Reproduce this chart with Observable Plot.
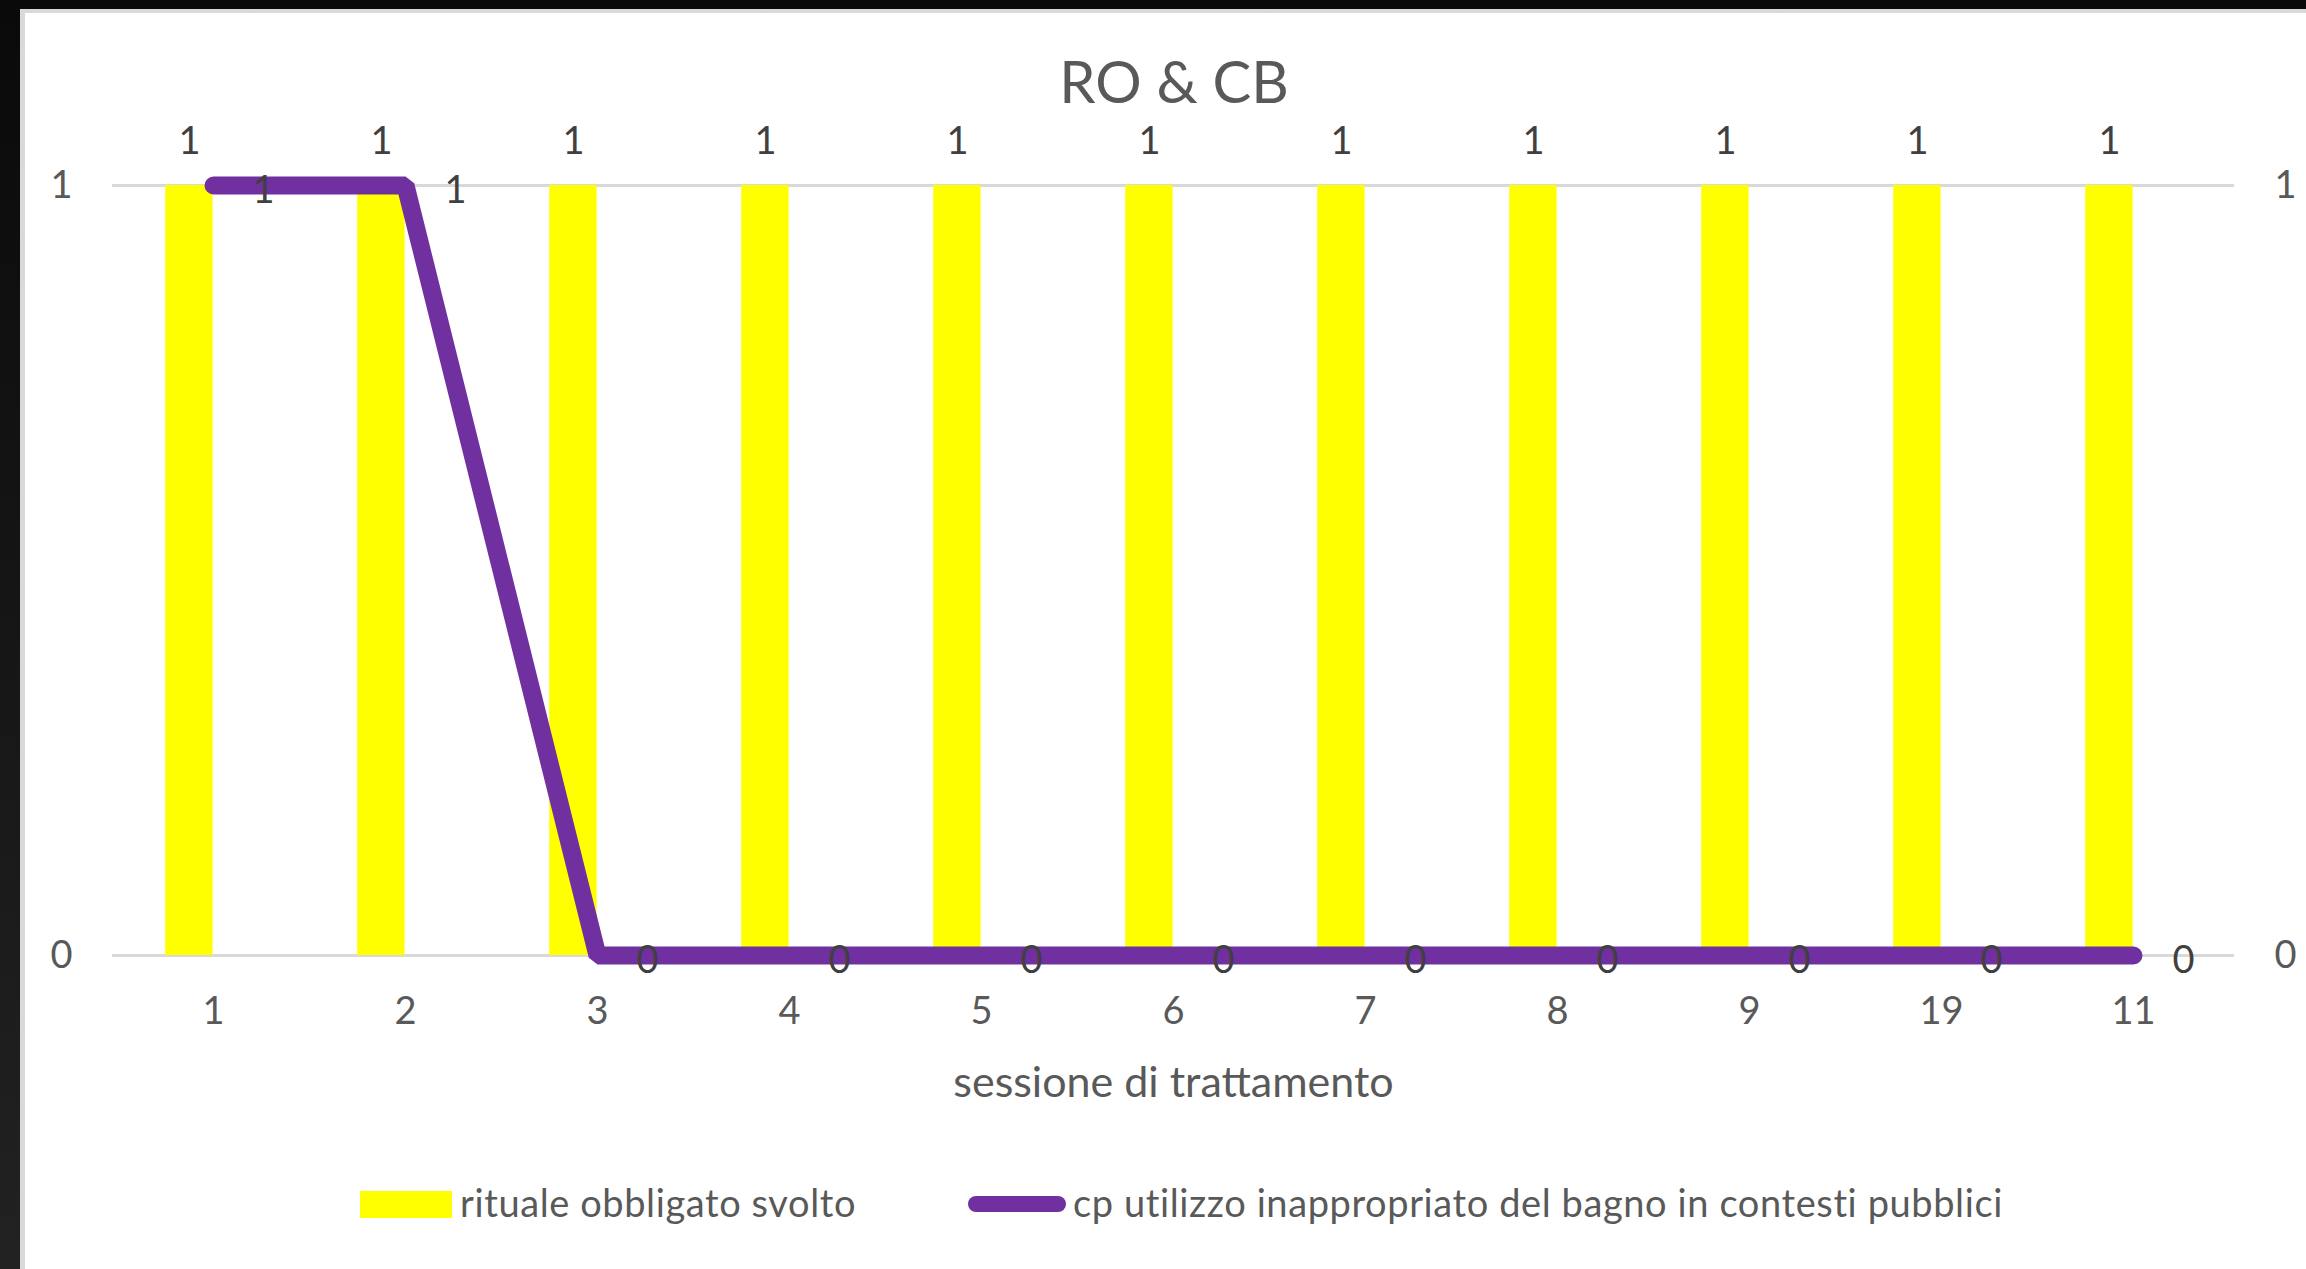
<!DOCTYPE html>
<html><head><meta charset="utf-8">
<script src="https://cdn.jsdelivr.net/npm/d3@7"></script>
<script src="https://cdn.jsdelivr.net/npm/@observablehq/plot@0.6"></script>
<style>
html,body{margin:0;padding:0;width:2306px;height:1269px;overflow:hidden;}
body{background:linear-gradient(to bottom,#0a0a0a,#222);font-family:Lato,sans-serif;position:relative;}
#sheet{position:absolute;left:20px;top:9px;width:2400px;height:1400px;background:#fff;border-left:5px solid #d9d9d9;border-top:4px solid #d9d9d9;}
#title{position:absolute;left:0;width:2348px;text-align:center;top:52px;font-size:58px;line-height:1;color:#595959;}
#chart{position:absolute;left:0;top:110px;}
.lg{position:absolute;}
.lgtext{font-size:38px;line-height:1;letter-spacing:0.6px;color:#595959;white-space:nowrap;top:1183px;}
</style></head><body>
<div id="sheet"></div>
<div id="title"></div>
<div id="chart"></div>
<div id="legend"></div>
<script>
const chartTitle = "RO & CB";
const sessions = ["1","2","3","4","5","6","7","8","9","19","11"];
const ritualeSvolto = [1,1,1,1,1,1,1,1,1,1,1];
const cpUtilizzo = [1,1,0,0,0,0,0,0,0,0,0];
const yTicks = [0,1];
const seriesNames = ["rituale obbligato svolto","cp utilizzo inappropriato del bagno in contesti pubblici"];
const xTitle = "sessione di trattamento";
const colors = ["#ffff00","#7030a0"];

document.getElementById("title").textContent = chartTitle;

const bars = sessions.map((s,i)=>({session:s, value:ritualeSvolto[i]}));
const line = sessions.map((s,i)=>({session:s, value:cpUtilizzo[i]}));

const chart = Plot.plot({
  width: 2306, height: 1010,
  marginLeft: 112, marginRight: 72, marginTop: 75, marginBottom: 165,
  style: {fontFamily: "Lato, sans-serif", fontSize: "38px", color: "#595959", background: "transparent", overflow: "visible"},
  x: {type: "band", domain: sessions, padding: 0, label: null},
  y: {domain: [0,1], label: null},
  marks: [
    Plot.ruleY(yTicks, {stroke: "#d9d9d9", strokeWidth: 3}),
    Plot.barY(bars, {x: "session", y: "value", fill: colors[0], insetLeft: 48.2, insetRight: 96.4}),
    Plot.line(line, {x: "session", y: "value", stroke: colors[1], strokeWidth: 18, strokeLinecap: "round", strokeLinejoin: "miter"}),
    Plot.text(bars, {x: "session", y: "value", text: d => String(d.value), dx: -24, dy: -44, fill: "#404040"}),
    Plot.text(line, {x: "session", y: "value", text: d => String(d.value), dx: 50, dy: 5, fill: "#404040"}),
    Plot.axisX({tickSize: 0, tickPadding: 42, label: null}),
    Plot.axisY({anchor: "left", ticks: yTicks, tickSize: 0, tickPadding: 40, tickFormat: d => String(d), label: null}),
    Plot.axisY({anchor: "right", ticks: yTicks, tickSize: 0, tickPadding: 40, tickFormat: d => String(d), label: null}),
    Plot.text([xTitle], {frameAnchor: "bottom", lineAnchor: "middle", text: d => d, dy: 128, fontSize: 43, fill: "#595959"})
  ]
});
document.getElementById("chart").appendChild(chart);

const lg = document.getElementById("legend");
function add(html){ const d=document.createElement("div"); d.innerHTML=html; lg.appendChild(d.firstChild); }
add(`<div class="lg" style="left:360px;top:1191px;width:92px;height:27px;background:${colors[0]}"></div>`);
add(`<div class="lg lgtext" style="left:460px"></div>`);
lg.lastChild.textContent = seriesNames[0];
add(`<div class="lg" style="left:968px;top:1196px;width:98px;height:16px;border-radius:8px;background:${colors[1]}"></div>`);
add(`<div class="lg lgtext" style="left:1073px"></div>`);
lg.lastChild.textContent = seriesNames[1];
</script>
</body></html>
